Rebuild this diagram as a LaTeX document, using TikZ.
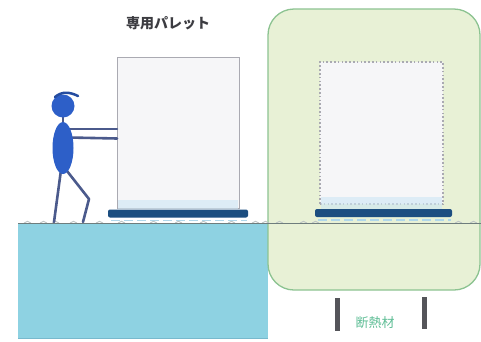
\documentclass[tikz,border=0pt]{standalone}
\usepackage{fontspec}
\newfontfamily\jpfont{Noto Sans CJK JP}
\definecolor{floorblue}{RGB}{142,210,226}
\definecolor{flooredge}{RGB}{120,185,205}
\definecolor{panelfill}{RGB}{232,241,214}
\definecolor{paneledge}{RGB}{140,195,145}
\definecolor{groundline}{RGB}{110,125,125}
\definecolor{boxedge}{RGB}{170,170,178}
\definecolor{boxfill}{RGB}{246,246,248}
\definecolor{palletblue}{RGB}{28,78,128}
\definecolor{stripeblue}{RGB}{175,215,235}
\definecolor{tintblue}{RGB}{205,230,245}
\definecolor{personblue}{RGB}{45,95,200}
\definecolor{limbgray}{RGB}{75,90,140}
\definecolor{bargray}{RGB}{85,85,90}
\definecolor{labelgray}{RGB}{60,60,65}
\definecolor{labelgreen}{RGB}{95,190,150}
\tikzset{
  limb/.style={draw=limbgray, line width=2.6, line cap=round, line join=round},
  palletslats/.style={draw=stripeblue, line width=1.6, dash pattern=on 9 off 4},
  cargo/.style={draw=boxedge, fill=boxfill, line width=1.0, inner sep=0},
  tuft/.style={draw=groundline!45, line width=0.9},
}
\begin{document}
\begin{tikzpicture}[x=1pt,y=-1pt]
\useasboundingbox (0,0) rectangle (481,341);
\fill[white] (0,0) rectangle (481,341);

% floor block on the left
\fill[floorblue] (18,223) rectangle (268,338);
\draw[flooredge, line width=0.8] (18,338) -- (268,338);

% insulated enclosure on the right
\draw[paneledge, fill=panelfill, line width=1.3, rounded corners=26] (268,9) rectangle (480,290);

% ground line with small tufts
\foreach \x in {24,40,52,70,96,118,150,175,200,228,252,262,276,300,312,455,470}
  \draw[tuft] (\x,223) .. controls (\x+2,220.8) and (\x+5,220.8) .. (\x+7,223);
\draw[groundline, line width=0.8] (18,223) -- (481,223);

% cargo on the left, pushed by the worker
\node[cargo, minimum width=122, minimum height=151] (cargoL) at (178,132.5) {};
\fill[tintblue, opacity=0.6] (118,200) rectangle (238,208.5);
\fill[palletblue, rounded corners=2] (108,209.5) rectangle (248,217.5);
\draw[palletslats] (111,220.5) -- (247,220.5);

% cargo position inside the enclosure
\node[draw=boxedge, fill=boxfill, dash pattern=on 1.6 off 2.2, line width=1.1, minimum width=123, minimum height=142, inner sep=0] (cargoR) at (381.5,133) {};
\fill[tintblue, opacity=0.6] (321,197) rectangle (442,208.5);
\fill[palletblue, rounded corners=2] (315,209) rectangle (452,217);
\draw[palletslats] (318,220) -- (451,220);

% worker
\draw[limb] (61,170) -- (54,222);
\draw[limb] (67,171) -- (89,199) -- (83,222);
\draw[limb] (69,129) -- (117,129);
\draw[limb] (69,137.5) -- (117,138.5);
\draw[limb] (63,116) -- (63,124);
\fill[personblue] (63,148) ellipse (10.5 and 26);
\fill[personblue] (63,106) circle (11.5);
\draw[personblue!80!black, line width=2.5, line cap=round] (55,97) .. controls (62,91) and (70,92) .. (78,96);

% labels
\node[text=labelgray, font=\jpfont\bfseries\fontsize{14}{16}\selectfont, inner sep=0] (title) at (168,23) {専用パレット};
\node[text=labelgreen, font=\jpfont\fontsize{13}{15}\selectfont, inner sep=0] (wall) at (375,323) {断熱材};

% wall thickness markers
\fill[bargray] (334.5,298) rectangle (339.5,331);
\fill[bargray] (421.5,297) rectangle (426.5,329);
\end{tikzpicture}
\end{document}
